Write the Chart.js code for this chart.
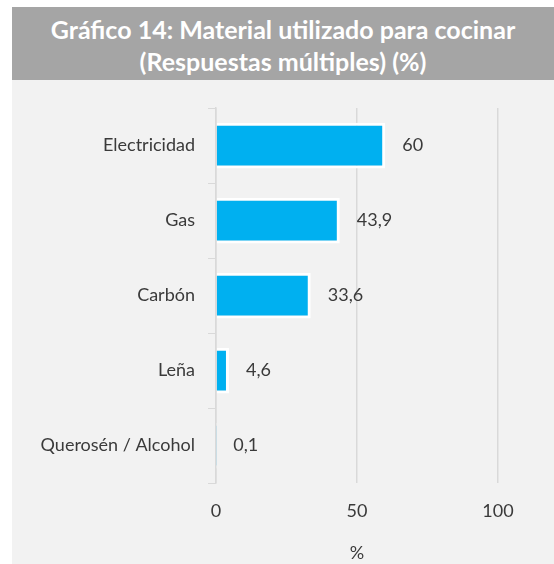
<!DOCTYPE html>
<html>
<head>
<meta charset="utf-8">
<script src="https://cdn.jsdelivr.net/npm/chart.js@4"></script>
<style>
  body { margin: 0; background: #fff; width: 554px; height: 564px; overflow: hidden; }
  #panel { position: absolute; left: 12px; top: 7px; width: 542px; height: 557px; background: #f2f2f2; }
  #title {
    height: 73px; background: #a5a5a5; color: #fff;
    font-family: Lato, sans-serif; font-weight: bold; font-size: 25px;
    text-align: center; line-height: 32px; padding-top: 6px; box-sizing: border-box;
  }
  #wrap { position: relative; width: 542px; height: 484px; }
</style>
</head>
<body>
<div id="panel">
  <div id="title">Gráfico 14: Material utilizado para cocinar<br>(Respuestas múltiples) (%)</div>
  <div id="wrap"><canvas id="chart"></canvas></div>
</div>
<script>
// Datos
const categories = ['Electricidad', 'Gas', 'Carbón', 'Leña', 'Querosén / Alcohol'];
const values = [60, 43.9, 33.6, 4.6, 0.1];
const valueLabels = ['60', '43,9', '33,6', '4,6', '0,1'];

const textColor = '#3a3a3a';
const fontFamily = 'Lato, sans-serif';

// Etiquetas al final de cada barra
const barLabels = {
    id: 'barLabels',
    afterDatasetsDraw(chart) {
        const ctx = chart.ctx;
        const meta = chart.getDatasetMeta(0);
        ctx.save();
        ctx.fillStyle = textColor;
        ctx.font = '18px ' + fontFamily;
        ctx.textAlign = 'left';
        ctx.textBaseline = 'middle';
        meta.data.forEach((bar, i) => {
            ctx.fillText(valueLabels[i], bar.x + 17, bar.y);
        });
        ctx.restore();
    }
};

const ctx = document.getElementById('chart').getContext('2d');
const chart = new Chart(ctx, {
    type: 'bar',
    data: {
        labels: categories,
        datasets: [{
            data: values,
            backgroundColor: '#00b0f0',
            borderColor: '#ffffff',
            borderWidth: 3,
            borderSkipped: 'start',
            barPercentage: 0.61,
            categoryPercentage: 1
        }]
    },
    options: {
        indexAxis: 'y',
        responsive: true,
        maintainAspectRatio: false,
        animation: false,
        layout: { padding: { top: 28, right: 56, left: 0, bottom: 0 } },
        plugins: { legend: { display: false }, tooltip: { enabled: false } },
        scales: {
            x: {
                min: 0,
                max: 100,
                ticks: { stepSize: 50, color: textColor, font: { family: fontFamily, size: 18 }, padding: 17 },
                grid: { color: '#d9d9d9', drawTicks: false, lineWidth: 1.5 },
                border: { display: false },
                title: { display: true, text: '%', color: textColor, font: { family: fontFamily, size: 18 }, padding: { top: 0, bottom: 0 } },
                afterFit(scale) { scale.height = 81; }
            },
            y: {
                ticks: { color: textColor, font: { family: fontFamily, size: 18 }, padding: 13 },
                grid: { drawOnChartArea: false, color: '#d9d9d9', tickLength: 8, offset: true },
                border: { display: true, color: '#d9d9d9', width: 1.5 },
                afterFit(scale) { scale.width = 204; }
            }
        }
    },
    plugins: [barLabels]
});
</script>
</body>
</html>
